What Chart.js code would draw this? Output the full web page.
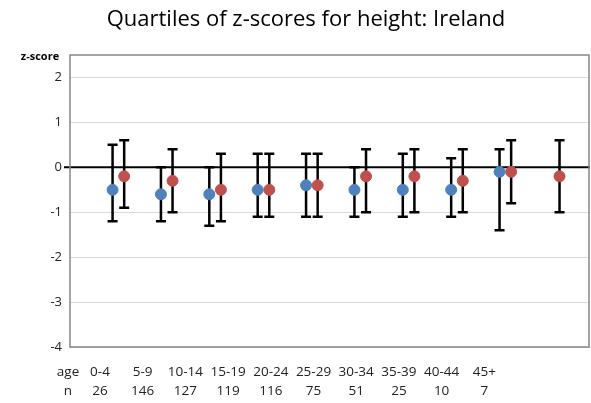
<!DOCTYPE html>
<html>
<head>
<meta charset="utf-8">
<script src="https://cdn.jsdelivr.net/npm/chart.js@4"></script>
<style>
  html, body { margin: 0; padding: 0; background: #fff; overflow: hidden; }
  canvas { display: block; }
</style>
</head>
<body>
<canvas id="grafico" width="591" height="403"></canvas>
<script>
const ages = ['0-4', '5-9', '10-14', '15-19', '20-24', '25-29', '30-34', '35-39', '40-44', '45+'];
const counts = [26, 146, 127, 119, 116, 75, 51, 25, 10, 7];
const blueMedian = [-0.5, -0.6, -0.6, -0.5, -0.4, -0.5, -0.5, -0.5, -0.1, null];
const blueQ1 = [-1.2, -1.2, -1.3, -1.1, -1.1, -1.1, -1.1, -1.1, -1.4, null];
const blueQ3 = [0.5, 0, 0, 0.3, 0.3, 0, 0.3, 0.2, 0.4, null];
const redMedian = [-0.2, -0.3, -0.5, -0.5, -0.4, -0.2, -0.2, -0.3, -0.1, -0.2];
const redQ1 = [-0.9, -1.0, -1.2, -1.1, -1.1, -1.0, -1.0, -1.0, -0.8, -1.0];
const redQ3 = [0.6, 0.4, 0.3, 0.3, 0.3, 0.4, 0.4, 0.4, 0.6, 0.6];
const yTicks = [-4, -3, -2, -1, 0, 1, 2];

const font = '"Open Sans", "Liberation Sans", sans-serif';
const offset = 0.12;

function pontos(med, q1, q3, shift) {
  const out = [];
  med.forEach((v, i) => {
    if (v !== null) out.push({ x: i + 1 + shift, y: v, q1: q1[i], q3: q3[i] });
  });
  return out;
}

// zero line and whiskers under the points, texts and border on top
const extras = {
  id: 'extras',
  beforeDatasetsDraw(chart) {
    const { ctx, chartArea, scales } = chart;
    const x = scales.x, y = scales.y;
    ctx.save();
    ctx.strokeStyle = '#000';
    ctx.lineWidth = 2;
    ctx.beginPath();
    ctx.moveTo(chartArea.left - 6, y.getPixelForValue(0));
    ctx.lineTo(chartArea.right, y.getPixelForValue(0));
    ctx.stroke();
    ctx.lineWidth = 2.5;
    chart.data.datasets.forEach(ds => {
      ds.data.forEach(p => {
        const px = x.getPixelForValue(p.x);
        const top = y.getPixelForValue(p.q3);
        const bot = y.getPixelForValue(p.q1);
        ctx.beginPath();
        ctx.moveTo(px, top); ctx.lineTo(px, bot);
        ctx.moveTo(px - 5, top); ctx.lineTo(px + 5, top);
        ctx.moveTo(px - 5, bot); ctx.lineTo(px + 5, bot);
        ctx.stroke();
      });
    });
    ctx.restore();
  },
  afterDraw(chart) {
    const { ctx, chartArea } = chart;
    ctx.save();
    // plot border
    ctx.strokeStyle = '#868686';
    ctx.lineWidth = 1.5;
    ctx.strokeRect(chartArea.left, chartArea.top, chartArea.right - chartArea.left - 1, chartArea.bottom - chartArea.top);
    ctx.fillStyle = '#000';
    ctx.textAlign = 'center';
    ctx.textBaseline = 'middle';
    ctx.font = '22px ' + font;
    ctx.fillText('Quartiles of z-scores for height: Ireland', 306, 20);
    ctx.font = 'bold 11px ' + font;
    ctx.fillText('z-score', 40, 57);
    ctx.fillStyle = '#222';
    ctx.font = '13.5px ' + font;
    ctx.fillText('age', chartArea.left - 2, 372);
    ctx.fillText('n', chartArea.left - 2, 391);
    ages.forEach((a, i) => {
      const cx = chartArea.left + 30 + 42.7 * i;
      ctx.fillText(a, cx, 372);
      ctx.fillText(String(counts[i]), cx, 391);
    });
    ctx.restore();
  }
};

new Chart(document.getElementById('grafico'), {
  type: 'scatter',
  data: {
    datasets: [{
      label: 'Series 1',
      data: pontos(blueMedian, blueQ1, blueQ3, -offset),
      backgroundColor: '#4F81BD',
      borderColor: '#4F81BD',
      pointRadius: 5.5,
      pointHoverRadius: 5.5
    }, {
      label: 'Series 2',
      data: pontos(redMedian, redQ1, redQ3, offset),
      backgroundColor: '#C0504D',
      borderColor: '#C0504D',
      pointRadius: 5.5,
      pointHoverRadius: 5.5
    }]
  },
  options: {
    responsive: false,
    animation: false,
    layout: { autoPadding: false, padding: { top: 55, right: 1, bottom: 56, left: 0 } },
    plugins: {
      legend: { display: false },
      tooltip: { enabled: false }
    },
    scales: {
      x: {
        type: 'linear',
        display: false,
        min: 0,
        max: 10.75
      },
      y: {
        min: -4,
        max: 2.5,
        afterFit(scale) { scale.width = 70; },
        afterBuildTicks(scale) { scale.ticks = yTicks.map(v => ({ value: v })); },
        ticks: {
          color: '#222',
          font: { size: 13, family: font },
          padding: 8
        },
        grid: {
          color: ctx => ctx.tick && ctx.tick.value === 0 ? 'rgba(0,0,0,0)' : '#d9d9d9',
          lineWidth: 1,
          drawTicks: false
        },
        border: { display: false }
      }
    }
  },
  plugins: [extras]
});
</script>
</body>
</html>
